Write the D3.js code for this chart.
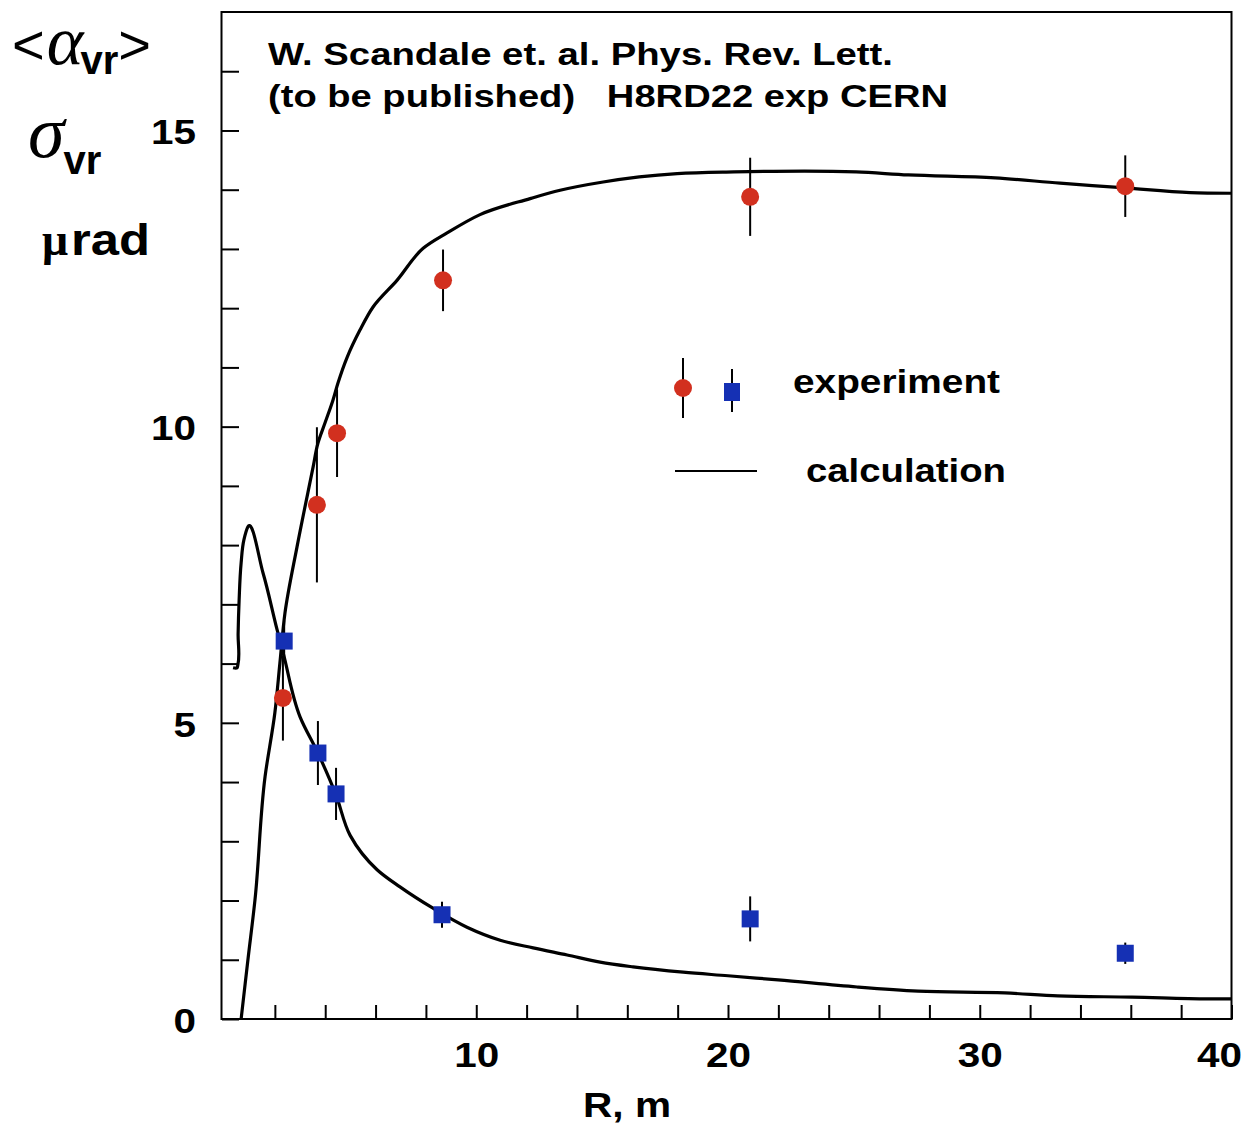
<!DOCTYPE html>
<html>
<head>
<meta charset="utf-8">
<script src="https://cdn.jsdelivr.net/npm/d3@7"></script>
<style>
body{margin:0;background:#fff;}
svg text{font-family:"Liberation Sans", Arial, sans-serif;font-weight:bold;fill:#000;}
</style>
</head>
<body>
<script>
// measured points (R in m, angle in microrad)
var alphaR   = [2.32, 3.67, 4.47, 8.68, 20.88, 35.78];
var alphaVal = [5.42, 8.68, 9.89, 12.47, 13.88, 14.06];
var alphaErr = [0.72, 1.31, 0.74, 0.52, 0.66, 0.52];

var sigmaR   = [2.37, 3.71, 4.43, 8.64, 20.88, 35.78];
var sigmaVal = [6.38, 4.49, 3.80, 1.76, 1.69, 1.11];
var sigmaErr = [0.35, 0.54, 0.44, 0.22, 0.38, 0.18];

// calculation curves
var alphaCalcR = [0.66, 0.93, 1.21, 1.61, 2.0, 2.2, 2.4, 2.88, 3.52, 3.71, 3.99, 4.31, 4.51, 4.87, 5.38, 5.9, 6.85, 7.89, 8.84, 10.15, 12.14, 13.33, 15.04, 17.98, 20.24, 25.09, 27.16, 30.61, 33.19, 35.78, 38.36, 40];
var alphaCalc  = [0, 1.0, 2.01, 4.09, 5.17, 6.01, 6.85, 7.97, 9.32, 9.72, 10.06, 10.45, 10.74, 11.17, 11.63, 12.02, 12.47, 13.01, 13.27, 13.58, 13.85, 13.99, 14.13, 14.27, 14.30, 14.30, 14.25, 14.20, 14.11, 14.03, 13.95, 13.94];

var sigmaCalcR = [0.34, 0.50, 0.53, 0.54, 0.58, 0.66, 0.77, 0.93, 1.53, 2.09, 2.33, 3.0, 3.71, 4.43, 4.99, 6.06, 6.97, 8.28, 9.63, 10.95, 12.26, 13.61, 14.92, 16.23, 18.22, 20.0, 21.99, 25.13, 27.55, 31.0, 33.1, 36.05, 39.07, 40];
var sigmaCalc  = [5.93, 5.93, 5.98, 6.5, 7.07, 7.70, 8.09, 8.31, 7.53, 6.57, 6.18, 5.10, 4.49, 3.78, 3.10, 2.52, 2.23, 1.87, 1.55, 1.33, 1.20, 1.08, 0.96, 0.88, 0.79, 0.73, 0.66, 0.54, 0.47, 0.44, 0.39, 0.37, 0.34, 0.34];

var xMinorTicks = [2, 4, 6, 8, 10, 12, 14, 16, 18, 20, 22, 24, 26, 28, 30, 32, 34, 36, 38, 40];
var xTickLabels = [10, 20, 30, 40];
var yMinorTicks = [1, 2, 3, 4, 5, 6, 7, 8, 9, 10, 11, 12, 13, 14, 15, 16];
var yTickLabels = [0, 5, 10, 15];

var titleLines = ["W. Scandale et. al. Phys. Rev. Lett.", "(to be published)   H8RD22 exp CERN"];

var W = 1245, H = 1123;
var red = "#d2301f", blue = "#1530b4";

var svg = d3.select("body").append("svg")
	.attr("width", W)
	.attr("height", H);

var x = d3.scaleLinear().domain([-0.1, 40]).range([222, 1231.5]);
var y = d3.scaleLinear().domain([0, 17]).range([1019, 12]);

// frame
svg.append("rect")
	.attr("x", x.range()[0] - 0.5).attr("y", y.range()[1])
	.attr("width", x.range()[1] - x.range()[0] + 0.5)
	.attr("height", y.range()[0] - y.range()[1])
	.style("fill", "none").style("stroke", "#000").style("stroke-width", 2);

// labels of the original are wider than Liberation Sans, stretch them a bit
function stretch(sel, perChar){
	sel.attr("lengthAdjust", "spacingAndGlyphs")
		.attr("textLength", function(){ var s = d3.select(this).text(); return s ? s.length*perChar : null; });
}

// y axis, ticks pointing inwards
var gy = svg.append("g")
	.attr("transform", "translate(" + x.range()[0] + ",0)")
	.call(d3.axisLeft(y).tickValues(yMinorTicks.concat([0])).tickSize(-17).tickSizeOuter(0)
		.tickPadding(26)
		.tickFormat(function(d){ return yTickLabels.indexOf(d) >= 0 ? d : ""; }));
gy.select(".domain").remove();
gy.selectAll("line").style("stroke-width", 2);
gy.selectAll("text").style("font-size", "35px").attr("dy", "0.38em")
	.style("font-family", "'Liberation Sans', Arial, sans-serif")
	.call(stretch, 22.5);

// x axis
var gx = svg.append("g")
	.attr("transform", "translate(0," + y.range()[0] + ")")
	.call(d3.axisBottom(x).tickValues(xMinorTicks).tickSize(-14).tickSizeOuter(0)
		.tickPadding(23)
		.tickFormat(function(d){ return xTickLabels.indexOf(d) >= 0 ? d : ""; }));
gx.select(".domain").remove();
gx.selectAll("line").style("stroke-width", 2);
gx.selectAll("text").style("font-size", "35px")
	.style("font-family", "'Liberation Sans', Arial, sans-serif")
	.call(stretch, 22.5);
// last label would fall off the page edge
gx.selectAll(".tick").filter(function(d){ return d === 40; }).select("text")
	.attr("text-anchor", "end").attr("x", 10);

// calculation curves
var line = d3.line()
	.curve(d3.curveCatmullRom.alpha(1))
	.x(function(d){ return x(d[0]); })
	.y(function(d){ return y(d[1]); });

[[alphaCalcR, alphaCalc], [sigmaCalcR, sigmaCalc]].forEach(function(c){
	svg.append("path")
		.datum(d3.zip(c[0], c[1]))
		.attr("d", line)
		.style("fill", "none").style("stroke", "#000").style("stroke-width", 3.2)
		.style("stroke-linejoin", "round");
});

// error bars
function errBars(rs, vals, errs){
	svg.append("g").selectAll("line")
		.data(d3.range(rs.length)).enter().append("line")
			.attr("x1", function(i){ return x(rs[i]); })
			.attr("x2", function(i){ return x(rs[i]); })
			.attr("y1", function(i){ return y(vals[i] - errs[i]); })
			.attr("y2", function(i){ return y(vals[i] + errs[i]); })
			.style("stroke", "#000").style("stroke-width", 2);
}
errBars(alphaR, alphaVal, alphaErr);
errBars(sigmaR, sigmaVal, sigmaErr);

svg.append("g").selectAll("circle")
	.data(d3.zip(alphaR, alphaVal)).enter().append("circle")
		.attr("cx", function(d){ return x(d[0]); })
		.attr("cy", function(d){ return y(d[1]); })
		.attr("r", 9)
		.style("fill", red);

var sq = 17;
svg.append("g").selectAll("rect")
	.data(d3.zip(sigmaR, sigmaVal)).enter().append("rect")
		.attr("x", function(d){ return x(d[0]) - sq/2; })
		.attr("y", function(d){ return y(d[1]) - sq/2; })
		.attr("width", sq).attr("height", sq)
		.style("fill", blue);

// legend
var lg = svg.append("g");
lg.append("line").attr("x1", 683).attr("x2", 683).attr("y1", 358).attr("y2", 418)
	.style("stroke", "#000").style("stroke-width", 2);
lg.append("circle").attr("cx", 683).attr("cy", 388).attr("r", 9).style("fill", red);
lg.append("line").attr("x1", 732).attr("x2", 732).attr("y1", 369).attr("y2", 412)
	.style("stroke", "#000").style("stroke-width", 2);
lg.append("rect").attr("x", 732 - 8).attr("y", 392 - 9).attr("width", 16).attr("height", 18).style("fill", blue);
lg.append("text").attr("x", 793).attr("y", 393).style("font-size", "34px")
	.attr("textLength", 207).attr("lengthAdjust", "spacingAndGlyphs").text("experiment");
lg.append("line").attr("x1", 675).attr("x2", 757).attr("y1", 471).attr("y2", 471)
	.style("stroke", "#000").style("stroke-width", 2);
lg.append("text").attr("x", 806).attr("y", 482).style("font-size", "34px")
	.attr("textLength", 200).attr("lengthAdjust", "spacingAndGlyphs").text("calculation");

// reference note
svg.append("g").selectAll("text")
	.data(titleLines).enter().append("text")
		.attr("x", 268)
		.attr("y", function(d, i){ return 65 + i*42; })
		.attr("textLength", function(d, i){ return i ? 680 : 625; })
		.attr("lengthAdjust", "spacingAndGlyphs")
		.style("font-size", "32px")
		.style("white-space", "pre")
		.text(function(d){ return d; });

// axis titles
var serif = "'Liberation Serif', 'Times New Roman', serif";
var t1 = svg.append("text").attr("x", 12).attr("y", 64).style("font-size", "56px");
t1.append("tspan").style("font-weight", "normal").text("<");
t1.append("tspan").attr("dx", 2).style("font-family", serif).style("font-style", "italic").style("font-weight", "normal")
	.style("font-size", "70px").text("α");
t1.append("tspan").attr("dy", 10).attr("dx", -3).style("font-size", "40px").text("vr");
t1.append("tspan").attr("dy", -10).style("font-weight", "normal").text(">");

var t2 = svg.append("text").attr("x", 28).attr("y", 157).style("font-size", "74px");
t2.append("tspan").style("font-family", serif).style("font-style", "italic").style("font-weight", "normal").text("σ");
t2.append("tspan").attr("dy", 17).attr("dx", -1).style("font-size", "40px").text("vr");

var t3 = svg.append("text").attr("x", 42).attr("y", 255).style("font-size", "44px");
t3.append("tspan").style("font-family", serif).style("font-size", "46px").text("μ");
t3.append("tspan").attr("dx", 3).attr("textLength", 79).attr("lengthAdjust", "spacingAndGlyphs").text("rad");

svg.append("text").attr("x", 627).attr("y", 1117).attr("text-anchor", "middle")
	.style("font-size", "35px").attr("textLength", 88).attr("lengthAdjust", "spacingAndGlyphs")
	.text("R, m");
</script>
</body>
</html>
